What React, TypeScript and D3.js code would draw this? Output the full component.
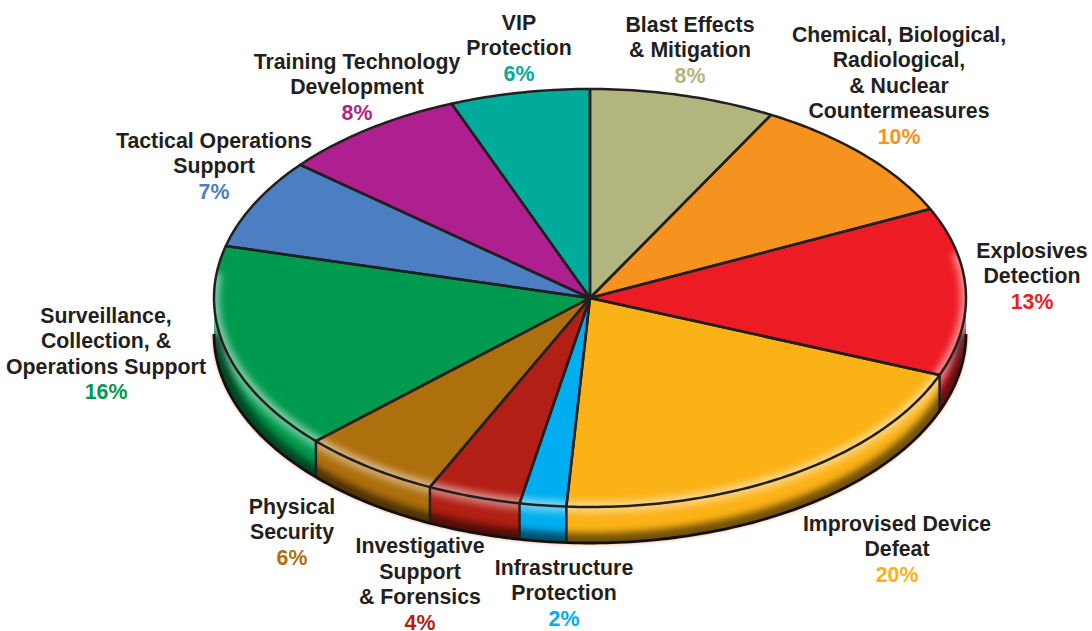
import React from 'react'
import * as d3 from 'd3'

const width = 1092
const height = 631

const categories = [
  ['Blast Effects', '& Mitigation'],
  ['Chemical, Biological,', 'Radiological,', '& Nuclear', 'Countermeasures'],
  ['Explosives', 'Detection'],
  ['Improvised Device', 'Defeat'],
  ['Infrastructure', 'Protection'],
  ['Investigative', 'Support', '& Forensics'],
  ['Physical', 'Security'],
  ['Surveillance,', 'Collection, &', 'Operations Support'],
  ['Tactical Operations', 'Support'],
  ['Training Technology', 'Development'],
  ['VIP', 'Protection'],
]
const percents = [8, 10, 13, 20, 2, 4, 6, 16, 7, 8, 6]
const colors = [
  '#b2b57e', '#f6921e', '#ed1c24', '#fbb216', '#00aeef', '#b21f14',
  '#ae6f0d', '#009a4e', '#4b7fc1', '#ae1f8f', '#00ab9c',
]
// label centre x and first baseline y, same order as categories
const labelX = [690, 899, 1032, 897, 564, 420, 292, 106, 214, 357, 519]
const labelY = [31.5, 41.5, 257.5, 530.5, 574.5, 553, 513.5, 322.5, 147.5, 68.5, 29.5]

const cx = 590
const cy = 298
const rx = 376
const ry = 209
const depth = 36
const lineH = 25.5
const ink = '#231f20'

const pieData = d3.pie<number>().sort(null).value((d) => d)(percents)

// d3.arc angles run clockwise from 12 o'clock, so sin/cos map straight to the ellipse
const px = (a: number) => cx + rx * Math.sin(a)
const py = (a: number) => cy - ry * Math.cos(a)

const rim = (a0: number, a1: number, dy = 0) => {
  const n = Math.max(2, Math.ceil((a1 - a0) * 60))
  return d3.range(n + 1).map((i) => {
    const a = a0 + ((a1 - a0) * i) / n
    return [px(a), py(a) + dy] as [number, number]
  })
}
const line = d3.line()

const wedge = (a0: number, a1: number) =>
  line([[cx, cy], ...rim(a0, a1)])! + 'Z'

const sideStart = Math.PI / 2
const sideEnd = (3 * Math.PI) / 2

export default function App() {
  const sides = pieData
    .map((d, i) => ({
      a0: Math.max(d.startAngle, sideStart),
      a1: Math.min(d.endAngle, sideEnd),
      color: colors[i],
    }))
    .filter((d) => d.a1 > d.a0)

  const sidePath = (a0: number, a1: number) =>
    line([...rim(a0, a1), ...rim(a0, a1, depth).reverse()])! + 'Z'

  const topRim = line(rim(sideStart, sideEnd))!
  const bottomRim = line(rim(sideStart, sideEnd, depth))!
  const glowRim = line(rim(sideStart - 0.22, sideEnd + 0.12))!

  return (
    <svg
      width={width}
      height={height}
      style={{ position: 'absolute', left: 0, top: 0, display: 'block' }}
      fontFamily="'Liberation Sans', Arial, sans-serif"
      fontWeight="bold"
      fontSize={21.3}
      textAnchor="middle"
    >
      <defs>
        <filter id="blur" filterUnits="userSpaceOnUse" x="0" y="0" width={width} height={height}>
          <feGaussianBlur stdDeviation="3.5" />
        </filter>
        <filter id="halo" filterUnits="userSpaceOnUse" x="0" y="0" width={width} height={height}>
          <feGaussianBlur stdDeviation="1.2" />
        </filter>
        <clipPath id="sideClip">
          <path d={sidePath(sideStart, sideEnd)} />
        </clipPath>
        <clipPath id="topClip">
          <ellipse cx={cx} cy={cy} rx={rx} ry={ry} />
        </clipPath>
      </defs>

      <rect width={width} height={height} fill="#fff" />
      <path d={bottomRim} fill="none" stroke="#f8b99a" strokeWidth={5} opacity={0.7} filter="url(#halo)" />

      {/* side wall */}
      {sides.map((d) => (
        <path key={d.a0} d={sidePath(d.a0, d.a1)} fill={d.color} />
      ))}
      <g clipPath="url(#sideClip)" fill="none">
        <path d={topRim} stroke="#fff" strokeWidth={13} opacity={0.4} filter="url(#blur)" />
        <path d={bottomRim} stroke="#000" strokeWidth={20} opacity={0.55} filter="url(#blur)" />
      </g>
      {sides
        .filter((d) => d.a0 > sideStart)
        .map((d) => (
          <line
            key={d.a0}
            x1={px(d.a0)}
            y1={py(d.a0)}
            x2={px(d.a0)}
            y2={py(d.a0) + depth}
            stroke={ink}
            strokeWidth={2.5}
          />
        ))}
      <path d={bottomRim} fill="none" stroke="#111" strokeWidth={2.8} />

      {/* top face */}
      {pieData.map((d, i) => (
        <path key={i} d={wedge(d.startAngle, d.endAngle)} fill={colors[i]} />
      ))}
      <g clipPath="url(#topClip)">
        <path d={glowRim} fill="none" stroke="#fff" strokeWidth={11} opacity={0.5} filter="url(#blur)" />
      </g>
      {pieData.map((d, i) => (
        <path
          key={i}
          d={wedge(d.startAngle, d.endAngle)}
          fill="none"
          stroke={ink}
          strokeWidth={2.5}
          strokeLinejoin="round"
        />
      ))}

      {/* labels */}
      {categories.map((lines, i) => (
        <text key={i} x={labelX[i]} y={labelY[i]} fill={ink}>
          {lines.map((t, j) => (
            <tspan key={j} x={labelX[i]} y={labelY[i] + j * lineH}>
              {t}
            </tspan>
          ))}
          <tspan x={labelX[i]} y={labelY[i] + lines.length * lineH} fill={colors[i]}>
            {percents[i]}%
          </tspan>
        </text>
      ))}
    </svg>
  )
}
